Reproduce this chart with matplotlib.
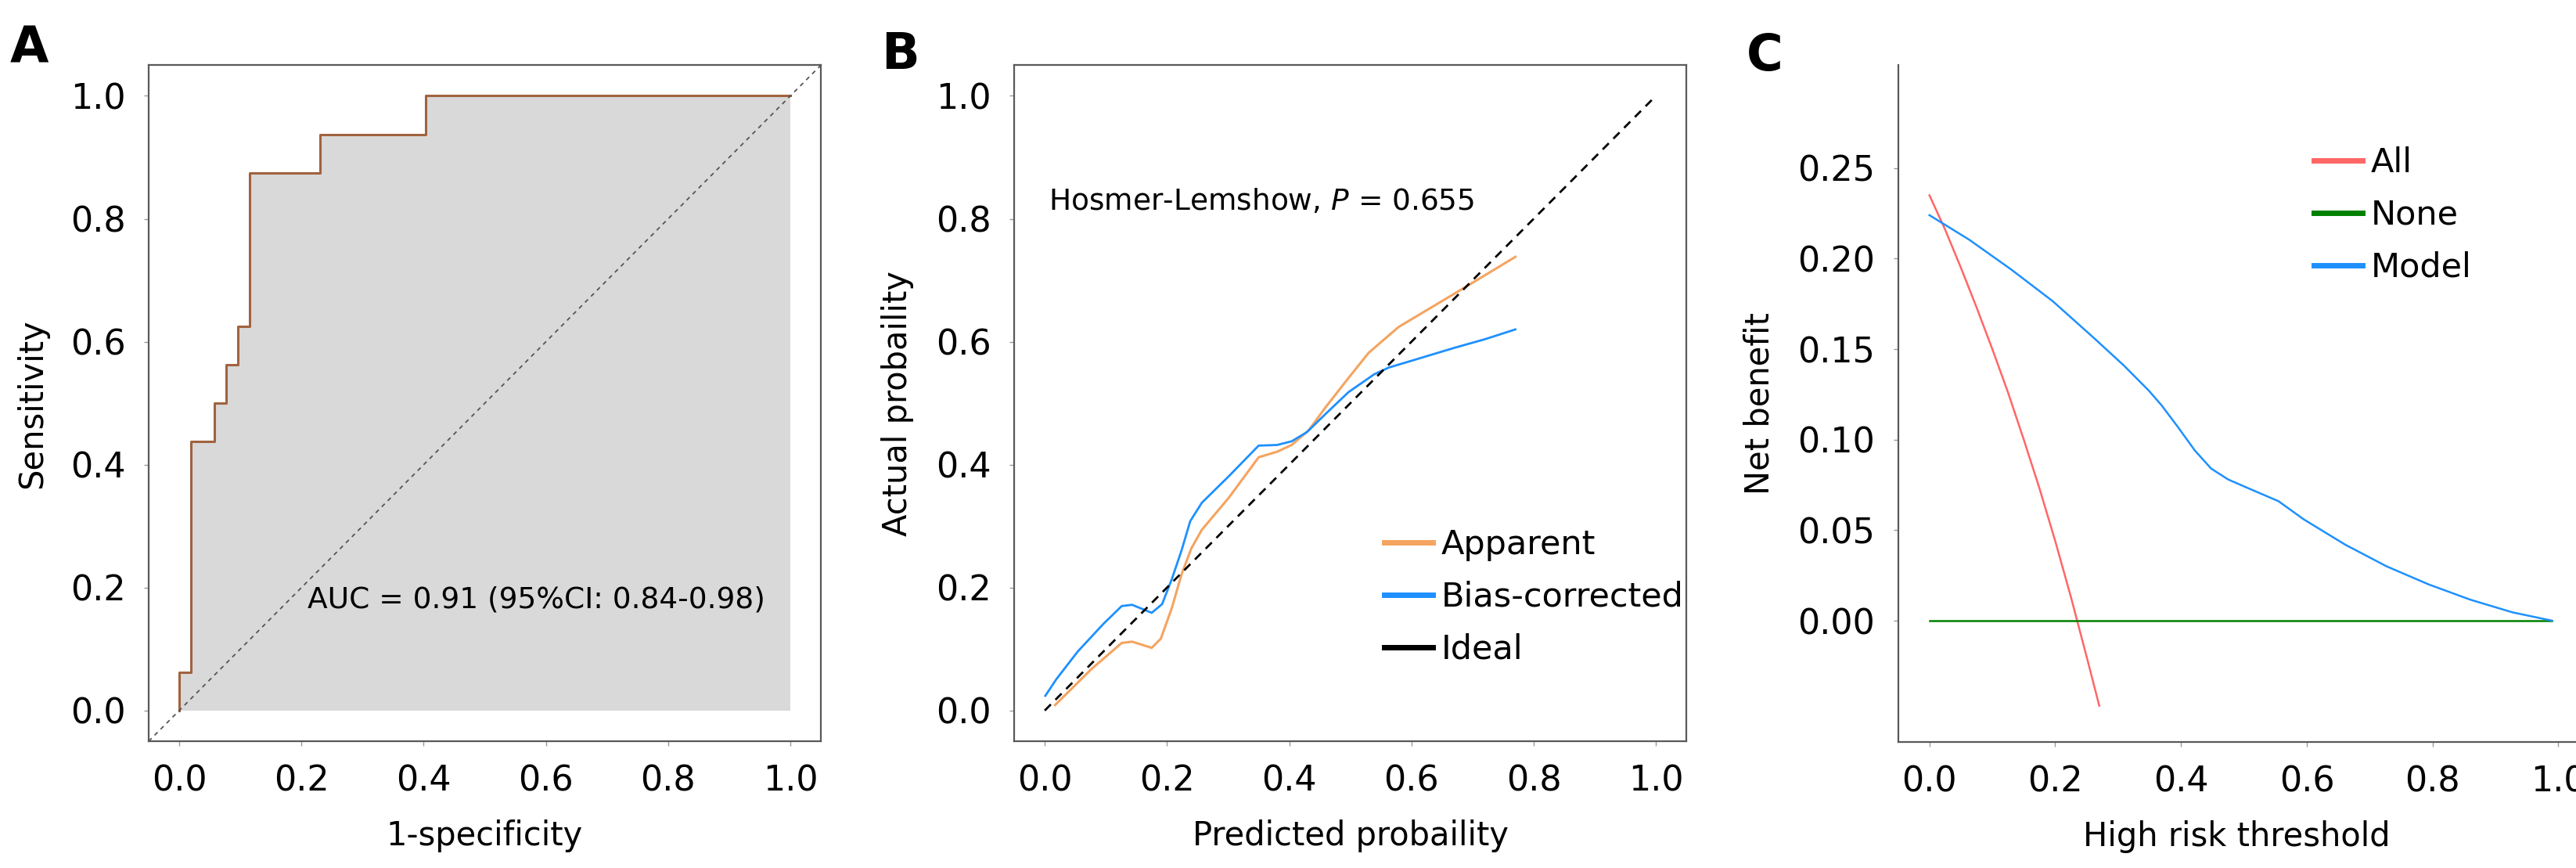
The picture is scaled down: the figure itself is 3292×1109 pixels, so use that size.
import matplotlib
matplotlib.use("Agg")
import matplotlib.pyplot as plt

plt.rcParams["font.family"] = ["DejaVu Sans"]

# ---- panel A: ROC ----
roc_fpr = [0, 0, 1/52, 1/52, 3/52, 3/52, 4/52, 4/52, 5/52, 5/52, 6/52, 6/52,
           12/52, 12/52, 21/52, 21/52, 1.0]
roc_tpr = [0, 1/16, 1/16, 7/16, 7/16, 8/16, 8/16, 9/16, 9/16, 10/16, 10/16, 14/16,
           14/16, 15/16, 15/16, 1.0, 1.0]
auc_text = "AUC = 0.91 (95%CI: 0.84-0.98)"

# ---- panel B: calibration ----
app_x = [0.017, 0.077, 0.126, 0.143, 0.175, 0.190, 0.208, 0.224, 0.240, 0.257,
         0.301, 0.350, 0.380, 0.404, 0.432, 0.460, 0.497, 0.530, 0.579, 0.670, 0.770]
app_y = [0.009, 0.068, 0.110, 0.112, 0.102, 0.117, 0.167, 0.222, 0.264, 0.294,
         0.346, 0.412, 0.421, 0.432, 0.456, 0.494, 0.541, 0.582, 0.624, 0.678, 0.738]
bc_x = [0.001, 0.019, 0.054, 0.096, 0.126, 0.143, 0.175, 0.192, 0.208, 0.224,
        0.238, 0.257, 0.301, 0.350, 0.380, 0.404, 0.429, 0.460, 0.497, 0.539,
        0.563, 0.600, 0.670, 0.720, 0.770]
bc_y = [0.024, 0.051, 0.096, 0.141, 0.170, 0.172, 0.159, 0.173, 0.214, 0.261,
        0.308, 0.338, 0.381, 0.431, 0.432, 0.438, 0.453, 0.483, 0.518, 0.547,
        0.558, 0.569, 0.590, 0.604, 0.620]
ideal = [0.0, 1.0]

# ---- panel C: decision curve ----
all_x = [0.0, 0.025, 0.05, 0.075, 0.10, 0.125, 0.15, 0.175, 0.20, 0.225, 0.25, 0.27]
all_y = [0.235, 0.216, 0.195, 0.173, 0.150, 0.126, 0.100, 0.073, 0.044, 0.013, -0.020, -0.047]
none_x = [0.0, 0.99]
none_y = [0.0, 0.0]
mod_x = [0.0, 0.063, 0.130, 0.196, 0.262, 0.309, 0.349, 0.369, 0.395, 0.422, 0.448,
         0.475, 0.508, 0.555, 0.595, 0.661, 0.727, 0.794, 0.860, 0.927, 0.990]
mod_y = [0.224, 0.2105, 0.194, 0.1765, 0.156, 0.141, 0.127, 0.119, 0.107, 0.094, 0.084,
         0.078, 0.073, 0.066, 0.056, 0.042, 0.030, 0.020, 0.0116, 0.0046, 0.0]

ticks01 = [0.0, 0.2, 0.4, 0.6, 0.8, 1.0]
nb_ticks = [0.0, 0.05, 0.10, 0.15, 0.20, 0.25]

TICK = 32
LAB = 30
spine_c = "#595959"

fig = plt.figure(figsize=(32.92, 11.09), dpi=100)


def style(ax, spines=("left", "bottom", "top", "right")):
    for s in ax.spines:
        ax.spines[s].set_visible(s in spines)
        ax.spines[s].set_color(spine_c)
        ax.spines[s].set_linewidth(1.6)
    ax.tick_params(length=4, width=1, color="#9a9a9a", labelsize=TICK, pad=17)


axA = fig.add_axes([0.0577, 0.146, 0.261, 0.779])
axA.fill_between(roc_fpr[1:], roc_tpr[1:], 0, color="#d9d9d9", lw=0)
axA.plot(roc_fpr, roc_tpr, color="#a0633f", lw=2.2)
axA.plot([-0.05, 1.05], [-0.05, 1.05], color="#555555", lw=1.3, ls=(0, (3, 3)))
axA.text(0.21, 0.18, auc_text, fontsize=27, va="center")
axA.set_xlim(-0.05, 1.05)
axA.set_ylim(-0.05, 1.05)
axA.set_xticks(ticks01)
axA.set_yticks(ticks01)
axA.set_xticklabels([f"{t:.1f}" for t in ticks01])
axA.set_yticklabels([f"{t:.1f}" for t in ticks01])
axA.set_xlabel("1-specificity", fontsize=LAB, labelpad=20)
axA.set_ylabel("Sensitivity", fontsize=LAB, labelpad=20)
style(axA)

axB = fig.add_axes([0.3937, 0.146, 0.261, 0.779])
axB.plot(app_x, app_y, color="#f4a460", lw=2.2, label="Apparent")
axB.plot(bc_x, bc_y, color="#1e90ff", lw=2.0, label="Bias-corrected")
axB.plot(ideal, ideal, color="black", lw=2.0, ls=(0, (4, 3)), label="Ideal")
axB.text(0.006, 0.827, "Hosmer-Lemshow, $P$ = 0.655", fontsize=27, va="center")
axB.set_xlim(-0.05, 1.05)
axB.set_ylim(-0.05, 1.05)
axB.set_xticks(ticks01)
axB.set_yticks(ticks01)
axB.set_xticklabels([f"{t:.1f}" for t in ticks01])
axB.set_yticklabels([f"{t:.1f}" for t in ticks01])
axB.set_xlabel("Predicted probaility", fontsize=LAB, labelpad=20)
axB.set_ylabel("Actual probaility", fontsize=LAB, labelpad=20)
style(axB)
legB = axB.legend(loc="upper left", bbox_to_anchor=(0.53, 0.335), frameon=False,
                  fontsize=31, handlelength=1.45, handletextpad=0.25,
                  labelspacing=0.58, borderaxespad=0)
for h in legB.get_lines():
    h.set_linewidth(5)
    h.set_linestyle("-")

axC = fig.add_axes([0.7368, 0.1452, 0.2632, 0.7800])
axC.plot(all_x, all_y, color="#ff6666", lw=1.8, label="All")
axC.plot(none_x, none_y, color="#008000", lw=1.8, label="None")
axC.plot(mod_x, mod_y, color="#1e90ff", lw=1.8, label="Model")
axC.set_xlim(-0.05, 1.028)
axC.set_ylim(-0.067, 0.307)
axC.set_xticks(ticks01)
axC.set_yticks(nb_ticks)
axC.set_xticklabels([f"{t:.1f}" for t in ticks01])
axC.set_yticklabels([f"{t:.2f}" for t in nb_ticks])
axC.set_xlabel("High risk threshold", fontsize=LAB, labelpad=20)
axC.set_ylabel("Net benefit", fontsize=LAB, labelpad=20)
style(axC, spines=("left", "bottom"))
legC = axC.legend(loc="upper left", bbox_to_anchor=(0.593, 0.90), frameon=False,
                  fontsize=31, handlelength=1.45, handletextpad=0.25,
                  labelspacing=0.58, borderaxespad=0)
for h in legC.get_lines():
    h.set_linewidth(5)

for lab, x, y in [("A", 0.004, 0.972), ("B", 0.342, 0.965), ("C", 0.678, 0.963)]:
    fig.text(x, y, lab, fontsize=46, fontweight="bold", va="top")

fig.savefig("out.png", dpi=100)
